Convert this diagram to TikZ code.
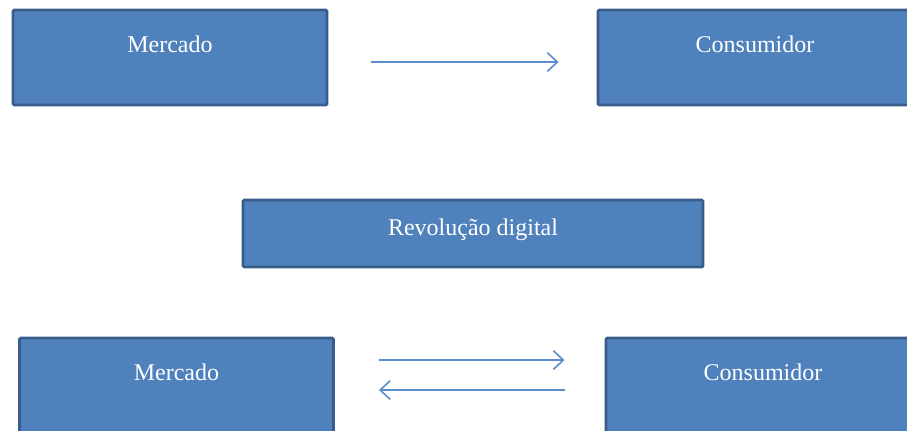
\documentclass[tikz,border=0pt]{standalone}
\usepackage{fontspec}
\setmainfont{Liberation Serif}
\usetikzlibrary{arrows.meta}
\definecolor{boxfill}{HTML}{4F81BD}
\definecolor{boxline}{HTML}{385D8A}
\definecolor{flowline}{HTML}{5B8CCB}
\tikzset{
  box/.style={draw=boxline,line width=2.2pt,fill=boxfill,text=white,
    font=\fontsize{18}{20}\selectfont,inner sep=0pt,rounded corners=1pt,
    minimum width=235.5pt,minimum height=71.25pt,
    text height=31.5pt,text depth=39.75pt},
  flow/.style={draw=flowline,line width=1.2pt,
    -{Straight Barb[length=7.5pt,width=14pt,line width=1.2pt]}}
}
\begin{document}
\begin{tikzpicture}[x=0.75pt,y=-0.75pt]
    \clip (0,0) rectangle (907,430);
    \node[box] (m1) at (170,57.5) {Mercado};
    \node[box] (c1) at (755,57.5) {Consumidor};
    \draw[flow,shorten <=32.25pt,shorten >=28.5pt]
    ([yshift=-3.4pt]m1.east) -- ([yshift=-3.4pt]c1.west);
    \node[box,minimum width=345pt,minimum height=50.25pt,
    text height=26.25pt,text depth=24pt] (rev) at (473,233.5) {Revolução digital};
    \node[box] (m2) at (176.5,385.5) {Mercado};
    \node[box] (c2) at (763,385.5) {Consumidor};
    \draw[flow,shorten <=33pt,shorten >=30pt]
    ([yshift=19.1pt]m2.east) -- ([yshift=19.1pt]c2.west);
    \draw[flow,shorten <=30pt,shorten >=33pt]
    ([yshift=-3.4pt]c2.west) -- ([yshift=-3.4pt]m2.east);
  \end{tikzpicture}
\end{document}
